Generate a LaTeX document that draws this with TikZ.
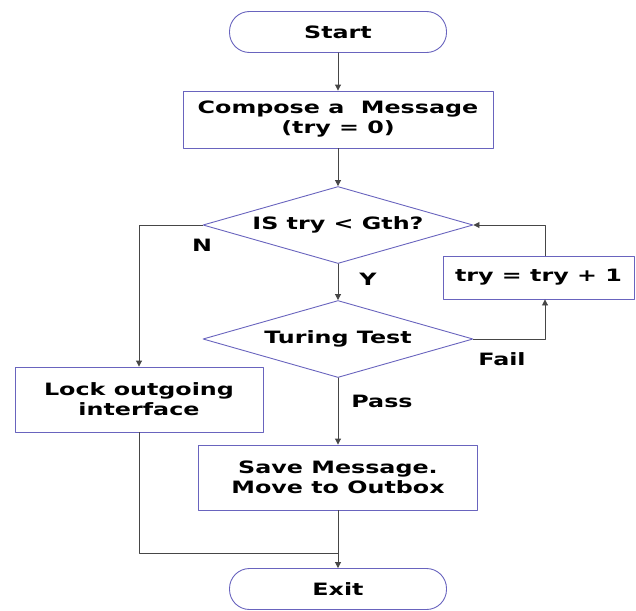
\documentclass[tikz,border=0pt]{standalone}
\usepackage{fontspec}
\newfontfamily\chartfont[FakeStretch=1.4]{DejaVu Sans}
\usetikzlibrary{shapes.geometric, arrows.meta}
\definecolor{boxblue}{RGB}{105,100,190}
\definecolor{linegray}{RGB}{70,70,70}

\begin{document}
\begin{tikzpicture}[x=1pt, y=-1pt, line cap=round, line join=round,
	font=\chartfont\bfseries\fontsize{17}{20}\selectfont,
	terminal/.style={draw=boxblue, line width=0.9pt, rounded corners=20pt, minimum width=217pt, minimum height=41pt, inner sep=0pt},
	process/.style={draw=boxblue, line width=0.9pt, align=center, inner sep=0pt},
	decision/.style={draw=boxblue, line width=0.9pt, diamond, aspect=3.5, inner sep=0pt, minimum width=270pt, minimum height=77pt},
	flow/.style={draw=linegray, line width=0.9pt, -{Triangle[length=6pt,width=6pt]}},
	link/.style={draw=linegray, line width=0.9pt}]
	\useasboundingbox (0,0) rectangle (636,610);
	\node[terminal] (start) at (338,32) {Start};
	\node[process, minimum width=310pt, minimum height=57pt] (compose) at (338,119.5) {Compose a\ \ Message\\(try = 0)};
	\node[decision] (check) at (338,225) {IS try < Gth?};
	\node[decision] (turing) at (338,339) {Turing Test};
	\node[process, minimum width=191pt, minimum height=43pt] (incr) at (538.5,277.5) {try = try + 1};
	\node[process, minimum width=248pt, minimum height=65pt] (lock) at (139,399.5) {Lock outgoing\\interface};
	\node[process, minimum width=279pt, minimum height=65pt] (save) at (338,477.5) {Save Message.\\Move to Outbox};
	\node[terminal] (exit) at (338,589) {Exit};
	% branch labels
	\node (nlabel) at (202,245) {N};
	\node (ylabel) at (368,279) {Y};
	\node (faillabel) at (502,359) {Fail};
	\node (passlabel) at (382,401) {Pass};
	\coordinate (loop) at (545,0);
	\coordinate (merge) at (338,553);
	\draw[flow] (start) -- (compose);
	\draw[flow] (compose) -- (check);
	\draw[flow] (check) -- (turing);
	\draw[flow] (check.west) -| (lock.north);
	\draw[flow] (turing) -- (save);
	\draw[flow] (turing.east) -| (incr.south -| loop);
	\draw[flow] (incr.north -| loop) |- (check.east);
	\draw[link] (lock.south) |- (merge);
	\draw[flow] (save) -- (exit);
\end{tikzpicture}
\end{document}
